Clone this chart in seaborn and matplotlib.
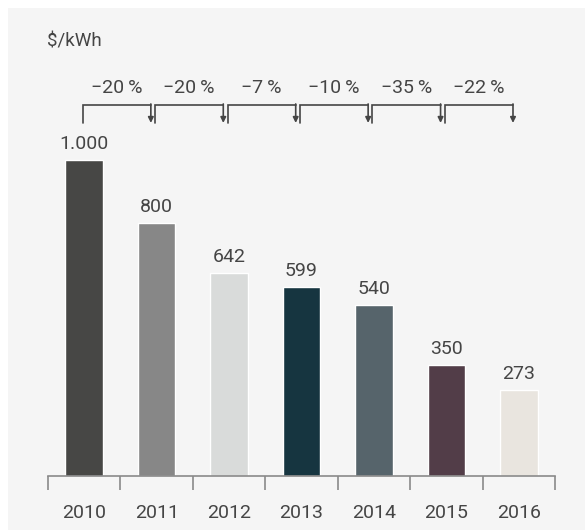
import matplotlib
matplotlib.use("Agg")
import matplotlib.pyplot as plt
import seaborn as sns
import pandas as pd
from matplotlib.patches import Rectangle

# data
years = ["2010", "2011", "2012", "2013", "2014", "2015", "2016"]
prices = [1000, 800, 642, 599, 540, 350, 273]
price_labels = ["1.000", "800", "642", "599", "540", "350", "273"]
changes = ["\u221220\u2009%", "\u221220\u2009%", "\u22127\u2009%", "\u221210\u2009%", "\u221235\u2009%", "\u221222\u2009%"]
bar_colors = ["#474745", "#878787", "#d9dbda", "#163540", "#56646b", "#523d48", "#e9e5df"]

text_col = "#454545"
sns.set_style("white")
plt.rcParams["font.family"] = ["Roboto", "DejaVu Sans"]

df = pd.DataFrame({"year": years, "price": prices})

fig = plt.figure(figsize=(5.85, 5.30), dpi=100)
fig.patch.set_facecolor("white")
# light grey panel with thin white margin top/left
fig.patches.append(Rectangle((8 / 585, 0), 1, 1 - 8 / 530, transform=fig.transFigure,
                             facecolor="#f5f5f5", edgecolor="none", zorder=-10))

ax = fig.add_axes([48 / 585, 54 / 530, 507 / 585, 446 / 530])
ax.set_facecolor("none")

sns.barplot(data=df, x="year", y="price", hue="year", palette=bar_colors,
            width=0.52, legend=False, ax=ax, saturation=1)

ax.set_xlim(-0.5, 6.5)
ax.set_ylim(0, 1411)

# value labels
for i, (v, lab) in enumerate(zip(prices, price_labels)):
    ax.annotate(lab, (i, v), xytext=(0, 5), textcoords="offset points",
                ha="center", va="bottom", fontsize=14, color=text_col)

# change brackets
y_top, y_bot = 1174, 1117
for i, lab in enumerate(changes):
    x0, x1 = i - 0.02, i + 1 - 0.08
    ax.plot([x0, x0, x1], [y_bot, y_top, y_top], color=text_col, lw=1.2,
            solid_joinstyle="miter", clip_on=False)
    ax.annotate("", xy=(x1, y_bot), xytext=(x1, y_top + 3),
                arrowprops=dict(arrowstyle="-|>", color=text_col, lw=1.2,
                                mutation_scale=8, shrinkA=0, shrinkB=0))
    ax.text((x0 + x1) / 2, 1228, lab, ha="center", va="center",
            fontsize=14, color=text_col)

fig.text(47 / 585, 1 - 42 / 530, "$/kWh", ha="left", va="center",
         fontsize=13.5, color=text_col)

# axis styling
for s in ["top", "right", "left"]:
    ax.spines[s].set_visible(False)
ax.spines["bottom"].set_color("#8a8a8a")
ax.spines["bottom"].set_linewidth(1.2)
ax.set_yticks([])
ax.set_xlabel("")
ax.set_ylabel("")
ax.set_xticks(range(len(years)))
ax.set_xticklabels(years)
ax.set_xticks([i - 0.5 for i in range(len(years) + 1)], minor=True)
ax.tick_params(axis="x", which="major", bottom=True, length=0, pad=20,
               labelsize=14, labelcolor=text_col)
ax.tick_params(axis="x", which="minor", bottom=True, length=10, width=1.2,
               color="#8a8a8a", direction="out")

fig.savefig("out.png", dpi=100, facecolor=fig.get_facecolor())
